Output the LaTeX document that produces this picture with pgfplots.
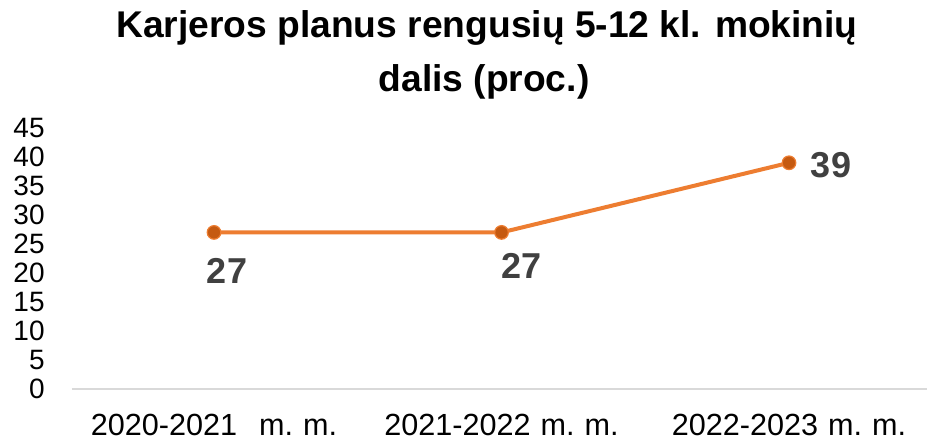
\documentclass[border=0pt]{standalone}
\usepackage{fontspec}
\setmainfont{Liberation Sans}
\usepackage{pgfplots}
\pgfplotsset{compat=1.18}
\definecolor{lineorange}{HTML}{ED7D31}
\definecolor{markorange}{HTML}{C55A11}
\definecolor{lblgray}{HTML}{404040}
\definecolor{axgray}{HTML}{D9D9D9}
\begin{document}
\begin{tikzpicture}
\useasboundingbox (-36pt,-26pt) rectangle (427.5pt,194.5pt);
\begin{axis}[
  at={(0pt,0pt)}, anchor=south west,
  scale only axis,
  width=427.5pt, height=130.5pt,
  xmin=-0.494, xmax=2.48,
  ymin=0, ymax=45,
  ytick={0,5,...,45},
  xtick={0,1,2},
  xticklabels={2020-2021\hspace{11pt}m.\hspace{5pt}m., 2021-2022\hspace{5pt}m.\hspace{5pt}m., 2022-2023\hspace{5pt}m.\hspace{5pt}m.},
  axis x line=bottom, axis y line=left,
  x axis line style={-, draw=axgray, line width=0.75pt},
  y axis line style={draw=none},
  major tick length=0pt,
  /pgf/number format/assume math mode=true,
  yticklabel style={font=\fontsize{14}{16}\selectfont, text=black, anchor=east, inner sep=0pt, xshift=-13.5pt},
  xticklabel style={font=\fontsize{15.3}{17}\selectfont, text=black, anchor=base, inner sep=0pt, yshift=-23.2pt},
  clip=false,
]
\addplot[color=lineorange, line width=2pt, mark=*, mark size=3.4pt,
  mark options={fill=markorange, draw=lineorange, line width=0.6pt}]
  coordinates {(0,27) (1,27) (2,39)};
\node[font=\bfseries\fontsize{18}{20}\selectfont, text=lblgray, inner sep=0pt]
  at (axis cs:0,27) [xshift=6.5pt, yshift=-19.25pt] {27};
\node[font=\bfseries\fontsize{18}{20}\selectfont, text=lblgray, inner sep=0pt]
  at (axis cs:1,27) [xshift=10pt, yshift=-17pt] {27};
\node[font=\bfseries\fontsize{18}{20}\selectfont, text=lblgray, inner sep=0pt]
  at (axis cs:2,39) [xshift=21pt, yshift=-1pt] {39};
\end{axis}
\node[font=\bfseries\fontsize{18.6}{20}\selectfont, anchor=base, inner sep=0pt]
  at (207.5pt,176pt) {Karjeros planus rengusių 5-12 kl. mokinių};
\node[font=\bfseries\fontsize{18.6}{20}\selectfont, anchor=base, inner sep=0pt]
  at (206pt,149pt) {dalis (proc.)};
\end{tikzpicture}
\end{document}
